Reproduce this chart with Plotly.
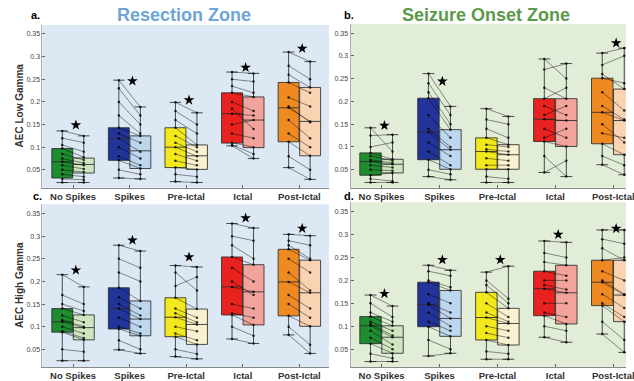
import plotly.graph_objects as go

categories = ["No Spikes", "Spikes", "Pre-Ictal", "Ictal", "Post-Ictal"]
cat_pos = [1, 2, 3, 4, 5]
y_tick_vals = [0.05, 0.1, 0.15, 0.2, 0.25, 0.3, 0.35]
y_tick_text = ["0.05", "0.1", "0.15", "0.2", "0.25", "0.3", "0.35"]

# box statistics per category: [lower whisker, q1, median, q3, upper whisker]
rz_low_dark = [[0.022, 0.032, 0.068, 0.097, 0.136], [0.032, 0.071, 0.119, 0.143, 0.248],
               [0.024, 0.055, 0.100, 0.143, 0.199], [0.103, 0.109, 0.174, 0.220, 0.266],
               [0.055, 0.112, 0.187, 0.243, 0.310]]
rz_low_light = [[0.022, 0.043, 0.062, 0.076, 0.125], [0.030, 0.053, 0.092, 0.125, 0.189],
                [0.022, 0.051, 0.081, 0.105, 0.176], [0.075, 0.099, 0.160, 0.211, 0.263],
                [0.029, 0.081, 0.157, 0.232, 0.289]]
soz_low_dark = [[0.022, 0.038, 0.068, 0.087, 0.142], [0.035, 0.072, 0.133, 0.207, 0.261],
                [0.022, 0.051, 0.090, 0.120, 0.184], [0.044, 0.112, 0.161, 0.206, 0.293],
                [0.061, 0.107, 0.176, 0.251, 0.306]]
soz_low_light = [[0.022, 0.043, 0.062, 0.073, 0.127], [0.028, 0.051, 0.094, 0.138, 0.189],
                 [0.022, 0.051, 0.083, 0.105, 0.167], [0.035, 0.101, 0.158, 0.206, 0.283],
                 [0.039, 0.083, 0.158, 0.227, 0.317]]
rz_high_dark = [[0.025, 0.088, 0.111, 0.140, 0.215], [0.049, 0.095, 0.140, 0.186, 0.280],
                [0.034, 0.078, 0.121, 0.164, 0.235], [0.073, 0.126, 0.188, 0.254, 0.328],
                [0.082, 0.124, 0.199, 0.271, 0.304]]
rz_high_light = [[0.025, 0.071, 0.098, 0.126, 0.188], [0.041, 0.080, 0.117, 0.157, 0.267],
                 [0.029, 0.061, 0.105, 0.139, 0.232], [0.063, 0.104, 0.177, 0.237, 0.318],
                 [0.041, 0.101, 0.175, 0.247, 0.301]]
soz_high_dark = [[0.023, 0.062, 0.101, 0.121, 0.168], [0.035, 0.099, 0.147, 0.196, 0.233],
                 [0.028, 0.070, 0.119, 0.174, 0.218], [0.076, 0.123, 0.182, 0.220, 0.286],
                 [0.083, 0.145, 0.196, 0.244, 0.310]]
soz_high_light = [[0.023, 0.041, 0.076, 0.101, 0.144], [0.041, 0.078, 0.117, 0.178, 0.222],
                  [0.028, 0.059, 0.106, 0.139, 0.231], [0.065, 0.105, 0.173, 0.233, 0.283],
                  [0.043, 0.110, 0.168, 0.244, 0.310]]

# paired subject values (dark condition -> light condition) per category
rz_low_pts_dark = [[0.136, 0.120, 0.105, 0.097, 0.085, 0.075, 0.068, 0.060, 0.050, 0.040, 0.030, 0.022],
                   [0.248, 0.230, 0.200, 0.170, 0.143, 0.130, 0.119, 0.100, 0.080, 0.071, 0.050, 0.032],
                   [0.199, 0.180, 0.160, 0.143, 0.125, 0.110, 0.100, 0.085, 0.070, 0.055, 0.040, 0.024],
                   [0.266, 0.250, 0.235, 0.220, 0.200, 0.185, 0.174, 0.150, 0.130, 0.110, 0.105, 0.103],
                   [0.310, 0.280, 0.260, 0.243, 0.210, 0.190, 0.187, 0.160, 0.130, 0.112, 0.080, 0.055]]
rz_low_pts_light = [[0.125, 0.110, 0.090, 0.078, 0.072, 0.065, 0.060, 0.052, 0.045, 0.035, 0.028, 0.022],
                    [0.189, 0.170, 0.150, 0.130, 0.125, 0.110, 0.090, 0.075, 0.060, 0.053, 0.040, 0.030],
                    [0.176, 0.150, 0.130, 0.105, 0.100, 0.090, 0.080, 0.070, 0.060, 0.051, 0.035, 0.022],
                    [0.263, 0.245, 0.220, 0.211, 0.180, 0.140, 0.170, 0.160, 0.120, 0.100, 0.085, 0.075],
                    [0.289, 0.250, 0.232, 0.220, 0.190, 0.155, 0.157, 0.120, 0.100, 0.081, 0.050, 0.029]]
soz_low_pts_dark = [[0.142, 0.125, 0.100, 0.087, 0.080, 0.072, 0.068, 0.060, 0.050, 0.038, 0.030, 0.022],
                    [0.261, 0.240, 0.220, 0.207, 0.170, 0.140, 0.133, 0.110, 0.090, 0.072, 0.050, 0.035],
                    [0.184, 0.160, 0.140, 0.120, 0.105, 0.095, 0.090, 0.075, 0.060, 0.051, 0.035, 0.022],
                    [0.293, 0.270, 0.230, 0.206, 0.190, 0.170, 0.161, 0.140, 0.120, 0.112, 0.080, 0.044],
                    [0.306, 0.280, 0.260, 0.251, 0.220, 0.190, 0.176, 0.150, 0.130, 0.107, 0.080, 0.061]]
soz_low_pts_light = [[0.090, 0.127, 0.110, 0.073, 0.070, 0.065, 0.062, 0.055, 0.048, 0.043, 0.025, 0.022],
                     [0.189, 0.170, 0.150, 0.138, 0.120, 0.100, 0.094, 0.080, 0.060, 0.051, 0.040, 0.028],
                     [0.167, 0.150, 0.120, 0.105, 0.100, 0.090, 0.083, 0.070, 0.060, 0.051, 0.030, 0.022],
                     [0.250, 0.283, 0.206, 0.230, 0.170, 0.190, 0.158, 0.120, 0.140, 0.101, 0.035, 0.070],
                     [0.317, 0.300, 0.227, 0.240, 0.180, 0.160, 0.158, 0.110, 0.120, 0.083, 0.060, 0.039]]
rz_high_pts_dark = [[0.215, 0.170, 0.150, 0.140, 0.125, 0.115, 0.111, 0.100, 0.090, 0.088, 0.050, 0.025],
                    [0.280, 0.250, 0.220, 0.186, 0.165, 0.150, 0.140, 0.120, 0.100, 0.095, 0.070, 0.049],
                    [0.235, 0.220, 0.190, 0.164, 0.140, 0.130, 0.121, 0.100, 0.085, 0.078, 0.050, 0.034],
                    [0.328, 0.300, 0.280, 0.254, 0.230, 0.200, 0.188, 0.150, 0.130, 0.126, 0.100, 0.073],
                    [0.304, 0.290, 0.280, 0.271, 0.250, 0.220, 0.199, 0.170, 0.150, 0.124, 0.100, 0.082]]
rz_high_pts_light = [[0.188, 0.150, 0.135, 0.126, 0.110, 0.100, 0.098, 0.085, 0.075, 0.071, 0.045, 0.025],
                     [0.267, 0.230, 0.200, 0.157, 0.140, 0.125, 0.117, 0.100, 0.085, 0.080, 0.050, 0.041],
                     [0.232, 0.180, 0.210, 0.139, 0.120, 0.110, 0.105, 0.090, 0.070, 0.061, 0.040, 0.029],
                     [0.318, 0.290, 0.250, 0.237, 0.200, 0.170, 0.177, 0.140, 0.120, 0.104, 0.080, 0.063],
                     [0.301, 0.280, 0.250, 0.247, 0.220, 0.180, 0.175, 0.140, 0.120, 0.101, 0.060, 0.041]]
soz_high_pts_dark = [[0.168, 0.150, 0.130, 0.121, 0.110, 0.105, 0.101, 0.090, 0.075, 0.062, 0.040, 0.023],
                     [0.233, 0.220, 0.200, 0.196, 0.170, 0.150, 0.147, 0.130, 0.110, 0.099, 0.070, 0.035],
                     [0.218, 0.200, 0.190, 0.174, 0.150, 0.130, 0.119, 0.100, 0.085, 0.070, 0.045, 0.028],
                     [0.286, 0.260, 0.240, 0.220, 0.200, 0.190, 0.182, 0.150, 0.130, 0.123, 0.100, 0.076],
                     [0.310, 0.290, 0.270, 0.244, 0.220, 0.200, 0.196, 0.170, 0.150, 0.145, 0.110, 0.083]]
soz_high_pts_light = [[0.144, 0.120, 0.110, 0.101, 0.090, 0.080, 0.076, 0.060, 0.050, 0.041, 0.030, 0.023],
                      [0.222, 0.210, 0.185, 0.178, 0.150, 0.130, 0.117, 0.100, 0.090, 0.078, 0.050, 0.041],
                      [0.231, 0.160, 0.150, 0.139, 0.120, 0.110, 0.106, 0.090, 0.075, 0.059, 0.040, 0.028],
                      [0.283, 0.250, 0.233, 0.210, 0.200, 0.180, 0.173, 0.150, 0.120, 0.105, 0.090, 0.065],
                      [0.310, 0.280, 0.244, 0.250, 0.200, 0.170, 0.168, 0.140, 0.120, 0.110, 0.070, 0.043]]

# significance stars (None = no star)
rz_low_star = [0.149, 0.246, 0.204, 0.276, 0.318]
soz_low_star = [0.147, 0.244, None, None, 0.328]
rz_high_star = [0.225, 0.291, 0.254, 0.340, 0.317]
soz_high_star = [0.171, 0.245, 0.245, 0.300, 0.313]

dark_colors = ["#1f8c2f", "#22339a", "#f3e81c", "#e8221f", "#ef8a22"]
light_colors = ["#cfe6c0", "#bdd7ef", "#f9f1cf", "#f2a39b", "#f9d3b2"]

OFF = 0.19
BW = 0.37

fig = go.Figure()

panels = [
    ("", rz_low_dark, rz_low_light, rz_low_pts_dark, rz_low_pts_light, rz_low_star),
    ("2", soz_low_dark, soz_low_light, soz_low_pts_dark, soz_low_pts_light, soz_low_star),
    ("3", rz_high_dark, rz_high_light, rz_high_pts_dark, rz_high_pts_light, rz_high_star),
    ("4", soz_high_dark, soz_high_light, soz_high_pts_dark, soz_high_pts_light, soz_high_star),
]

for sfx, dstats, lstats, dpts, lpts, stars in panels:
    xa, ya = "x" + sfx, "y" + sfx
    for i, c in enumerate(cat_pos):
        for stats, pos, col in ((dstats[i], c - OFF, dark_colors[i]), (lstats[i], c + OFF, light_colors[i])):
            fig.add_trace(go.Box(
                x=[pos], lowerfence=[stats[0]], q1=[stats[1]], median=[stats[2]],
                q3=[stats[3]], upperfence=[stats[4]], orientation="v",
                width=BW, whiskerwidth=0.55, fillcolor=col,
                line=dict(color="rgba(45,45,45,0.85)", width=1),
                boxpoints=False, hoverinfo="skip", showlegend=False,
                xaxis=xa, yaxis=ya))
    lx, ly = [], []
    for i, c in enumerate(cat_pos):
        for a, b in zip(dpts[i], lpts[i]):
            lx += [c - OFF, c + OFF, None]
            ly += [a, b, None]
    fig.add_trace(go.Scatter(
        x=lx, y=ly, mode="lines+markers",
        line=dict(color="rgba(0,0,0,0.55)", width=0.8),
        marker=dict(color="rgba(0,0,0,0.8)", size=2.5),
        hoverinfo="skip", showlegend=False, xaxis=xa, yaxis=ya))
    sx = [c + 0.05 for c, s in zip(cat_pos, stars) if s is not None]
    sy = [s for s in stars if s is not None]
    fig.add_trace(go.Scatter(
        x=sx, y=sy, mode="markers",
        marker=dict(symbol="star", color="black", size=8, line=dict(width=0)),
        hoverinfo="skip", showlegend=False, xaxis=xa, yaxis=ya))

W, H = 634, 381
def dom_x(l, r):
    return [l / W, r / W]
def dom_y(t, b):
    return [1 - b / H, 1 - t / H]

tick_text = ["<b>%s</b>" % c for c in categories]
xcommon = dict(tickvals=cat_pos, ticktext=tick_text, ticks="inside", ticklen=3,
               tickcolor="#666", showline=True, linecolor="#8a8a8a", linewidth=1,
               showgrid=False, zeroline=False, ticklabeloverflow="allow",
               tickfont=dict(family="Liberation Sans, Arial", size=9.5, color="#333"))
ycommon = dict(tickvals=y_tick_vals, ticktext=y_tick_text, ticks="inside", ticklen=3,
               tickcolor="#666", showline=True, linecolor="#b0b0b0", linewidth=1,
               showgrid=False, zeroline=False, range=[0.011, 0.37],
               tickfont=dict(family="Liberation Sans, Arial", size=7, color="#444"))

fig.update_layout(
    width=W, height=H, margin=dict(l=0, r=0, t=0, b=0),
    paper_bgcolor="white", boxmode="overlay", showlegend=False,
    xaxis=dict(domain=dom_x(43, 333), range=[0.46, 5.52], anchor="y", **xcommon),
    yaxis=dict(domain=dom_y(25, 188), anchor="x", **ycommon),
    xaxis2=dict(domain=dom_x(355, 634), range=[0.465, 5.22], anchor="y2", **xcommon),
    yaxis2=dict(domain=dom_y(24, 188), anchor="x2", **ycommon),
    xaxis3=dict(domain=dom_x(43, 333), range=[0.46, 5.52], anchor="y3", **xcommon),
    yaxis3=dict(domain=dom_y(205, 368), anchor="x3", **ycommon),
    xaxis4=dict(domain=dom_x(355, 634), range=[0.465, 5.22], anchor="y4", **xcommon),
    yaxis4=dict(domain=dom_y(203, 368), anchor="x4", **ycommon),
)

# panel backgrounds
bg = [("x", "y", "#dce9f5"), ("x2", "y2", "#e2edd8"), ("x3", "y3", "#dce9f5"), ("x4", "y4", "#e2edd8")]
for xa, ya, col in bg:
    fig.add_shape(type="rect", xref=xa + " domain", yref=ya + " domain", x0=0, x1=1, y0=0, y1=1,
                  fillcolor=col, line=dict(width=0), layer="below")

font = "Liberation Sans, Arial"
anns = [
    dict(text="<b>Resection Zone</b>", x=186 / W, y=1 - 15 / H, font=dict(size=18, color="#6fa4d8", family=font)),
    dict(text="<b>Seizure Onset Zone</b>", x=492 / W, y=1 - 15 / H, font=dict(size=18, color="#5a9a4a", family=font)),
    dict(text="<b>a.</b>", x=36 / W, y=1 - 15 / H, font=dict(size=11, color="black", family=font)),
    dict(text="<b>b.</b>", x=353 / W, y=1 - 15 / H, font=dict(size=11, color="black", family=font)),
    dict(text="<b>c.</b>", x=38 / W, y=1 - 197 / H, font=dict(size=11, color="black", family=font)),
    dict(text="<b>d.</b>", x=353 / W, y=1 - 197 / H, font=dict(size=11, color="black", family=font)),
    dict(text="<b>AEC Low Gamma</b>", x=20 / W, y=1 - 106 / H, textangle=-90,
         font=dict(size=10, color="#333", family=font)),
    dict(text="<b>AEC High Gamma</b>", x=20 / W, y=1 - 286 / H, textangle=-90,
         font=dict(size=10, color="#333", family=font)),
]
for a in anns:
    fig.add_annotation(xref="paper", yref="paper", showarrow=False, xanchor="center", yanchor="middle", **a)

fig.write_html("out.html", config={"displayModeBar": False},
               post_script="document.body.style.margin='0';document.body.style.overflow='hidden';")
